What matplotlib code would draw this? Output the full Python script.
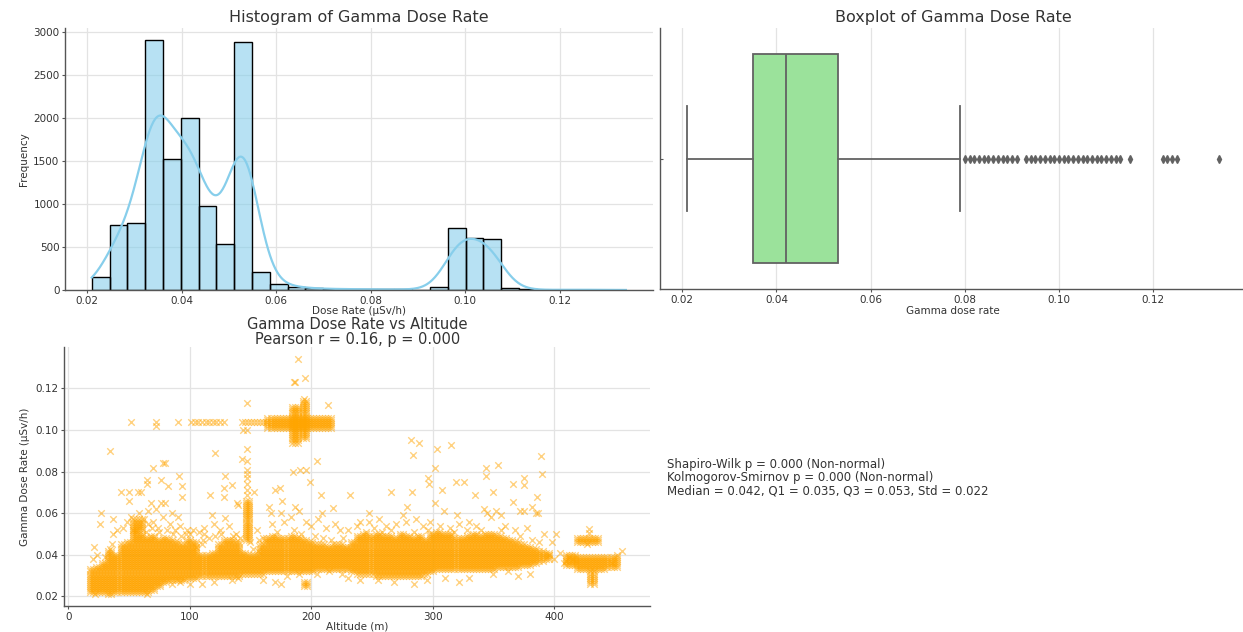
import numpy as np
import matplotlib
matplotlib.use("Agg")
import matplotlib.pyplot as plt

# ---------------- data ----------------
# Histogram of gamma dose rate (µSv/h): 30 equal bins over the data range
dose_min, dose_max = 0.021, 0.134
hist_counts = [155, 755, 774, 2900, 1517, 2001, 972, 530, 2884, 205,
               66, 35, 18, 12, 10, 8, 6, 6, 5, 30,
               723, 604, 592, 20, 8, 0, 2, 5, 0, 1]

# Boxplot summary of gamma dose rate
box_median = 0.042
box_q1 = 0.035
box_q3 = 0.053
box_whisker_low = 0.021
box_whisker_high = 0.079
box_fliers = [0.080, 0.081, 0.082, 0.083, 0.084, 0.085, 0.086, 0.087, 0.088,
              0.089, 0.090, 0.091,
              0.093, 0.094, 0.095, 0.096, 0.097, 0.098, 0.099, 0.100, 0.101,
              0.102, 0.103, 0.104, 0.105, 0.106, 0.107, 0.108, 0.109, 0.110,
              0.111, 0.112, 0.113,
              0.115, 0.122, 0.123, 0.124, 0.125, 0.134]

# Main band of measurements: 5 m altitude columns with their dose range
band_alt = [18, 23, 28, 33, 38, 43, 48, 53, 58, 63, 68, 73, 78, 83, 88, 93, 98,
            103, 108, 113, 118, 123, 128, 133, 138, 143, 148, 153, 158, 163, 168,
            173, 178, 183, 188, 193, 198, 203, 208, 213, 218, 223, 228, 233, 238,
            243, 248, 253, 258, 263, 268, 273, 278, 283, 288, 293, 298, 303, 308,
            313, 318, 323, 328, 333, 338, 343, 348, 353, 358, 363, 368, 373, 378,
            383, 388, 393]
band_low = [0.022, 0.022, 0.022, 0.021, 0.022, 0.022, 0.022, 0.022, 0.022, 0.022,
            0.023, 0.025, 0.027, 0.028, 0.028, 0.028, 0.029, 0.029, 0.030, 0.030,
            0.030, 0.030, 0.030, 0.030, 0.030, 0.031, 0.031, 0.031, 0.031, 0.032,
            0.032, 0.032, 0.032, 0.032, 0.032, 0.032, 0.032, 0.033, 0.033, 0.033,
            0.033, 0.033, 0.033, 0.032, 0.031, 0.031, 0.031, 0.030, 0.030, 0.030,
            0.030, 0.030, 0.030, 0.030, 0.030, 0.031, 0.032, 0.033, 0.033, 0.033,
            0.033, 0.033, 0.033, 0.033, 0.033, 0.033, 0.033, 0.034, 0.034, 0.034,
            0.034, 0.035, 0.035, 0.036, 0.037, 0.038]
band_high = [0.033, 0.034, 0.036, 0.042, 0.040, 0.045, 0.046, 0.052, 0.050, 0.048,
             0.049, 0.047, 0.048, 0.047, 0.046, 0.045, 0.047, 0.046, 0.040, 0.040,
             0.041, 0.045, 0.047, 0.047, 0.046, 0.041, 0.040, 0.040, 0.045, 0.048,
             0.049, 0.048, 0.048, 0.049, 0.048, 0.047, 0.046, 0.045, 0.045, 0.044,
             0.045, 0.045, 0.044, 0.046, 0.049, 0.050, 0.049, 0.050, 0.049, 0.049,
             0.048, 0.050, 0.049, 0.048, 0.049, 0.047, 0.050, 0.051, 0.050, 0.050,
             0.048, 0.048, 0.049, 0.050, 0.049, 0.050, 0.050, 0.049, 0.048, 0.047,
             0.046, 0.045, 0.044, 0.043, 0.042, 0.041]

# Smaller dense groups (altitude from, altitude to, dose from, dose to)
dense_groups = [
    (53, 61, 0.052, 0.057), (146, 149, 0.047, 0.066), (194, 199, 0.025, 0.027),
    (419, 438, 0.046, 0.048), (410, 419, 0.035, 0.040), (419, 444, 0.033, 0.039),
    (444, 452, 0.034, 0.039), (430, 434, 0.026, 0.032), (143, 164, 0.104, 0.104),
    (164, 217, 0.101, 0.106), (184, 191, 0.094, 0.111), (193, 197, 0.096, 0.114),
]

# Individual scattered measurements (altitude m, dose µSv/h)
sparse_points = [
    (52, 0.104), (72, 0.104), (72, 0.102), (90, 0.104), (101, 0.104), (104, 0.104),
    (107, 0.104), (110, 0.104), (113, 0.104), (116, 0.104), (119, 0.104),
    (122, 0.104), (125, 0.104), (128, 0.104),
    (34, 0.090), (70, 0.082), (78, 0.084), (80, 0.084), (91, 0.078), (65, 0.076),
    (65, 0.074), (76, 0.076), (82, 0.073), (94, 0.073), (94, 0.068), (43, 0.070),
    (50, 0.070), (57, 0.070), (60, 0.070), (50, 0.066), (68, 0.065), (76, 0.065),
    (80, 0.065), (27, 0.060), (26, 0.055), (37, 0.057), (40, 0.052), (37, 0.050),
    (21, 0.044), (34, 0.043),
    (45, 0.053), (48, 0.056), (52, 0.058), (58, 0.060), (62, 0.057), (66, 0.055),
    (70, 0.056), (74, 0.053), (78, 0.058), (84, 0.055), (88, 0.052), (92, 0.054),
    (97, 0.050), (100, 0.050), (85, 0.060), (72, 0.062), (66, 0.061), (90, 0.058),
    (98, 0.052), (103, 0.052), (108, 0.051), (112, 0.050), (20, 0.038),
    (24, 0.040), (30, 0.039), (36, 0.045), (65, 0.021), (22, 0.021),
    (64, 0.051), (69, 0.053), (75, 0.051), (81, 0.052), (86, 0.050), (93, 0.049),
    (111, 0.047), (116, 0.048), (121, 0.049), (126, 0.050), (136, 0.049),
    (141, 0.048), (152, 0.043), (156, 0.042), (105, 0.044), (110, 0.045),
    (100, 0.026), (110, 0.026), (120, 0.027), (135, 0.028), (160, 0.028),
    (170, 0.027), (175, 0.026), (85, 0.026), (92, 0.027), (140, 0.029),
    (144, 0.100), (147, 0.100), (147, 0.113), (189, 0.134), (195, 0.125),
    (186, 0.123), (187, 0.123), (194, 0.115), (214, 0.112), (121, 0.089),
    (147, 0.091), (143, 0.086), (147, 0.085), (147, 0.081), (147, 0.079),
    (147, 0.077), (147, 0.074), (147, 0.071), (147, 0.069), (205, 0.085),
    (199, 0.075), (185, 0.080), (191, 0.081), (196, 0.081), (129, 0.078),
    (128, 0.072), (135, 0.0735), (117, 0.069), (128, 0.068), (153, 0.070),
    (170, 0.071), (174, 0.072), (176, 0.066), (165, 0.063), (167, 0.060),
    (175, 0.060), (187, 0.063), (190, 0.061), (208, 0.069), (209, 0.060),
    (218, 0.0625), (139, 0.065), (140, 0.064), (118, 0.059), (129, 0.0575),
    (112, 0.053), (120, 0.055), (125, 0.052), (132, 0.054), (138, 0.050),
    (155, 0.052), (160, 0.048), (168, 0.055), (178, 0.056), (183, 0.058),
    (196, 0.056), (200, 0.054), (206, 0.057), (212, 0.053), (220, 0.055),
    (224, 0.052), (150, 0.046), (157, 0.047), (172, 0.051), (186, 0.052),
    (192, 0.050), (203, 0.049), (210, 0.048), (216, 0.047), (226, 0.048),
    (180, 0.030), (190, 0.031), (205, 0.031), (215, 0.032), (225, 0.031),
    (282, 0.095), (289, 0.094), (284, 0.088), (304, 0.091), (315, 0.093),
    (302, 0.082), (296, 0.077), (297, 0.074), (319, 0.075), (326, 0.075),
    (308, 0.071), (335, 0.069), (232, 0.069), (266, 0.070), (283, 0.070),
    (279, 0.063), (248, 0.060), (302, 0.065), (309, 0.061), (256, 0.057),
    (276, 0.059), (286, 0.057), (320, 0.059), (330, 0.056), (240, 0.056),
    (248, 0.056),
    (389, 0.0875), (344, 0.082), (354, 0.083), (344, 0.078), (390, 0.079),
    (375, 0.077), (375, 0.0735), (366, 0.074), (350, 0.070), (386, 0.068),
    (366, 0.0655), (372, 0.061), (375, 0.061), (382, 0.063), (385, 0.060),
    (387, 0.060), (342, 0.062), (345, 0.060), (348, 0.058), (352, 0.061),
    (356, 0.059), (402, 0.050),
    (230, 0.052), (238, 0.054), (245, 0.051), (252, 0.053), (262, 0.054),
    (270, 0.055), (278, 0.056), (292, 0.054), (298, 0.056), (306, 0.054),
    (314, 0.053), (322, 0.055), (336, 0.054), (340, 0.052), (360, 0.054),
    (368, 0.052), (378, 0.053), (392, 0.050), (398, 0.046), (396, 0.040),
    (400, 0.038), (405, 0.041), (408, 0.036), (412, 0.039), (416, 0.038),
    (258, 0.051), (266, 0.052), (285, 0.051), (296, 0.052), (318, 0.051),
    (328, 0.052), (356, 0.052), (372, 0.049), (382, 0.047), (388, 0.046),
    (429, 0.0525), (429, 0.0505), (427, 0.045), (456, 0.042), (452, 0.040),
    (448, 0.036), (410, 0.037),
    (255, 0.028), (268, 0.027), (285, 0.026), (295, 0.028), (310, 0.029),
    (322, 0.027), (330, 0.029), (230, 0.029), (240, 0.028), (380, 0.031),
    (370, 0.030), (350, 0.031), (362, 0.032),
]

stats_lines = ["Shapiro-Wilk p = 0.000 (Non-normal)",
               "Kolmogorov-Smirnov p = 0.000 (Non-normal)",
               "Median = 0.042, Q1 = 0.035, Q3 = 0.053, Std = 0.022"]

# ---------------- style ----------------
TEXT = "#333333"
SPINE = "#555555"
GRID = "#e3e3e3"
plt.rcParams.update({
    "font.family": ["DejaVu Sans"],
    "text.color": TEXT,
    "axes.labelcolor": TEXT,
    "xtick.color": SPINE,
    "ytick.color": SPINE,
    "xtick.labelcolor": TEXT,
    "ytick.labelcolor": TEXT,
    "xtick.labelsize": 7.5,
    "ytick.labelsize": 7.5,
    "xtick.major.size": 2.5,
    "ytick.major.size": 2.5,
    "xtick.major.pad": 1.5,
    "ytick.major.pad": 1.5,
})

W, H = 1243, 632
fig = plt.figure(figsize=(W / 100, H / 100), dpi=100)


def px_axes(left, top, right, bottom):
    return fig.add_axes([left / W, 1 - bottom / H, (right - left) / W, (bottom - top) / H])


def style(ax, xgrid=True, ygrid=True):
    for s in ("top", "right"):
        ax.spines[s].set_visible(False)
    for s in ("left", "bottom"):
        ax.spines[s].set_color(SPINE)
        ax.spines[s].set_linewidth(1.0)
    ax.set_axisbelow(True)
    if xgrid:
        ax.grid(True, axis="x", color=GRID, linewidth=0.9)
    if ygrid:
        ax.grid(True, axis="y", color=GRID, linewidth=0.9)


dose_ticks = [0.02, 0.04, 0.06, 0.08, 0.10, 0.12]
dose_ticklabels = ["0.02", "0.04", "0.06", "0.08", "0.10", "0.12"]

# ---------------- histogram with KDE ----------------
ax1 = px_axes(65, 27.6, 652.8, 290)
style(ax1)
edges = np.linspace(dose_min, dose_max, len(hist_counts) + 1)
centers = (edges[:-1] + edges[1:]) / 2
counts = np.array(hist_counts, dtype=float)
ax1.hist(centers, bins=edges, weights=counts, color="skyblue", alpha=0.6,
         edgecolor="none")
ax1.hist(centers, bins=edges, weights=counts, histtype="bar", fill=False,
         edgecolor="black", linewidth=1.0)

# Gaussian kernel density (Scott's rule) scaled to counts per bin
n_total = counts.sum()
mean = np.sum(counts * centers) / n_total
sd = np.sqrt(np.sum(counts * (centers - mean) ** 2) / n_total)
bw = sd * n_total ** (-1 / 5)
xs = np.linspace(dose_min, dose_max, 600)
dens = np.zeros_like(xs)
for c, w in zip(centers, counts):
    dens += w * np.exp(-0.5 * ((xs - c) / bw) ** 2)
dens /= (n_total * bw * np.sqrt(2 * np.pi))
binw = edges[1] - edges[0]
ax1.plot(xs, dens * n_total * binw, color="skyblue", linewidth=1.6)

ax1.set_xticks(dose_ticks, dose_ticklabels)
ax1.set_yticks([0, 500, 1000, 1500, 2000, 2500, 3000])
ax1.set_xlim(0.01535, 0.1397)
ax1.set_ylim(0, 3048)
ax1.set_title("Histogram of Gamma Dose Rate", fontsize=11.5, pad=4)
ax1.set_xlabel("Dose Rate (µSv/h)", fontsize=7.5, labelpad=0.5)
ax1.set_ylabel("Frequency", fontsize=7.5, labelpad=3)

# ---------------- boxplot ----------------
ax2 = px_axes(660.4, 28, 1246, 289.3)
style(ax2, xgrid=True, ygrid=False)
box_stats = [{
    "med": box_median, "q1": box_q1, "q3": box_q3,
    "whislo": box_whisker_low, "whishi": box_whisker_high,
    "fliers": box_fliers, "label": "",
}]
LINE = "#626262"
ax2.bxp(box_stats, positions=[0], widths=0.8, orientation="horizontal",
        patch_artist=True,
        boxprops=dict(facecolor="#9be29b", edgecolor=LINE, linewidth=1.3),
        medianprops=dict(color=LINE, linewidth=1.3),
        whiskerprops=dict(color=LINE, linewidth=1.3),
        capprops=dict(color=LINE, linewidth=1.3),
        capwidths=0.4,
        flierprops=dict(marker="d", markerfacecolor=LINE, markeredgecolor=LINE,
                        markersize=3.6, linestyle="none"))
ax2.set_ylim(0.5, -0.5)
ax2.set_xlim(0.01535, 0.1397)
ax2.set_yticks([0], [""])
ax2.tick_params(axis="y", direction="in", length=2)
ax2.set_xticks(dose_ticks, dose_ticklabels)
ax2.set_title("Boxplot of Gamma Dose Rate", fontsize=11.5, pad=4)
ax2.set_xlabel("Gamma dose rate", fontsize=7.5, labelpad=0.5)

# ---------------- scatter: dose vs altitude ----------------
ax3 = px_axes(64.3, 346.7, 650, 606)
style(ax3)
dense_alt, dense_dose = [], []
regions = [(a, a + 5, lo, hi) for a, lo, hi in zip(band_alt, band_low, band_high)]
regions += dense_groups
for a0, a1, d0, d1 in regions:
    for a in np.arange(a0, a1, 2.5):
        for d in np.arange(d0, d1 + 1e-9, 0.001):
            dense_alt.append(a)
            dense_dose.append(d)
sparse_alt = [p[0] for p in sparse_points]
sparse_dose = [p[1] for p in sparse_points]
all_alt = np.concatenate([dense_alt, sparse_alt])
all_dose = np.concatenate([dense_dose, sparse_dose])
ax3.scatter(all_alt, all_dose, marker="x", color="orange", alpha=0.5, s=22,
            linewidths=1.0)
ax3.set_xlim(-3.3, 479)
ax3.set_ylim(0.0154, 0.1401)
ax3.set_xticks([0, 100, 200, 300, 400])
ax3.set_yticks(dose_ticks, dose_ticklabels)
ax3.set_title("Gamma Dose Rate vs Altitude\nPearson r = 0.16, p = 0.000",
              fontsize=10.5, linespacing=0.95, pad=2)
ax3.set_xlabel("Altitude (m)", fontsize=7.5, labelpad=0)
ax3.set_ylabel("Gamma Dose Rate (µSv/h)", fontsize=7.5, labelpad=4)

# ---------------- normality summary ----------------
fig.text(667 / W, 1 - 478 / H, "\n".join(stats_lines), fontsize=8.5,
         ha="left", va="center", linespacing=1.05, color=TEXT)

fig.savefig("out.png", dpi=100)
